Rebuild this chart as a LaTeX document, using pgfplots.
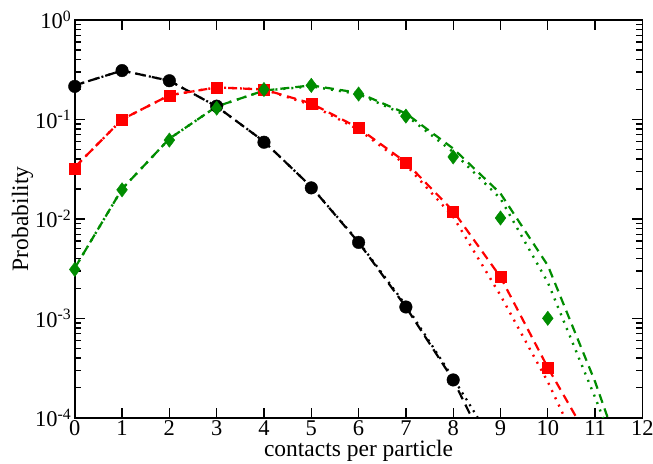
\documentclass[border=0pt]{standalone}
\usepackage{fontspec}
\setmainfont{Liberation Serif}
\usepackage{pgfplots}
\pgfplotsset{compat=1.18}
\definecolor{dgreen}{RGB}{0,140,0}

\begin{document}
\begin{tikzpicture}
\begin{axis}[
    name=ax,
    scale only axis,
    width=568pt, height=398pt,
    xmin=0, xmax=12,
    ymode=log, ymin=1e-4, ymax=1,
    xtick={0,...,12},
    ytick={1e-4,1e-3,1e-2,1e-1,1},
    yticklabels={10\textsuperscript{-4},10\textsuperscript{-3},10\textsuperscript{-2},10\textsuperscript{-1},10\textsuperscript{0}},
    xticklabel style={/pgf/number format/assume math mode=true, yshift=1pt},
    tick label style={font=\fontsize{22.5}{24}\selectfont},
    tick align=inside,
    major tick length=10pt,
    minor tick length=6pt,
    every tick/.style={line width=1.3pt, black},
    axis line style={line width=1.6pt},
    xlabel={contacts per particle},
    ylabel={Probability},
    label style={font=\fontsize{23.5}{26}\selectfont},
    xlabel style={at={(axis description cs:0.5,-0.056)}, anchor=north, inner sep=0pt},
    ylabel style={at={(axis description cs:-0.111,0.5)}, anchor=north, inner sep=0pt},
    clip=true,
]
% black: dashed and dotted fits
\addplot[black, line width=2.2pt, dash pattern=on 10pt off 6pt] coordinates {
    (0,0.22) (1,0.31) (2,0.245) (3,0.135) (4,0.06) (5,0.021) (6,0.0058) (7,0.0013) (8,0.00024) (8.5,0.000079)
};
\addplot[black, line width=2.2pt, dash pattern=on 2pt off 5pt] coordinates {
    (0,0.22) (1,0.31) (2,0.245) (3,0.135) (4,0.06) (5,0.021) (6,0.0059) (7,0.00135) (8,0.00025) (8.6,0.000087)
};
% red
\addplot[red, line width=2.2pt, dash pattern=on 9pt off 6pt] coordinates {
    (0,0.033) (1,0.1) (2,0.175) (3,0.21) (4,0.2) (5,0.145) (6,0.082) (7,0.037) (8,0.012) (9,0.0026) (10,0.00032) (10.7,0.000084)
};
\addplot[red, line width=2.4pt, dash pattern=on 2pt off 6pt] coordinates {
    (0,0.033) (1,0.1) (2,0.175) (3,0.21) (4,0.2) (5,0.14) (6,0.079) (7,0.035) (8,0.0105) (9,0.0017) (10,0.00023) (10.5,0.000072)
};
% green
\addplot[dgreen, line width=2.2pt, dash pattern=on 9pt off 6pt] coordinates {
    (0,0.0032) (1,0.02) (2,0.064) (3,0.135) (4,0.195) (5,0.22) (6,0.185) (7,0.115) (8,0.051) (9,0.018) (10,0.0034) (11,0.00023) (11.4,0.000066)
};
\addplot[dgreen, line width=2.4pt, dash pattern=on 2pt off 6pt] coordinates {
    (0,0.0032) (1,0.02) (2,0.064) (3,0.135) (4,0.195) (5,0.215) (6,0.18) (7,0.11) (8,0.047) (9,0.016) (10,0.0023) (11,0.00016) (11.3,0.000069)
};
% markers
\addplot[only marks, mark=*, mark size=6.3pt, black] coordinates {
    (0,0.215) (1,0.31) (2,0.245) (3,0.136) (4,0.059) (5,0.0205) (6,0.0058) (7,0.0013) (8,0.00024)
};
\addplot[only marks, mark=square*, mark size=5.5pt, red] coordinates {
    (0,0.032) (1,0.1) (2,0.175) (3,0.21) (4,0.2) (5,0.145) (6,0.082) (7,0.037) (8,0.0118) (9,0.0026) (10,0.00032)
};
\addplot[only marks, mark=diamond*, mark size=7.2pt, dgreen] coordinates {
    (0,0.0031) (1,0.0196) (2,0.062) (3,0.13) (4,0.2) (5,0.22) (6,0.18) (7,0.108) (8,0.042) (9,0.0102) (10,0.001)
};
\end{axis}
\pgfresetboundingbox
\path (ax.south west) ++(-74.8pt,-46pt) coordinate (bl);
\path (ax.north east) ++(10.6pt,20pt) coordinate (tr);
\path[use as bounding box] (bl) rectangle (tr);
\end{tikzpicture}
\end{document}
